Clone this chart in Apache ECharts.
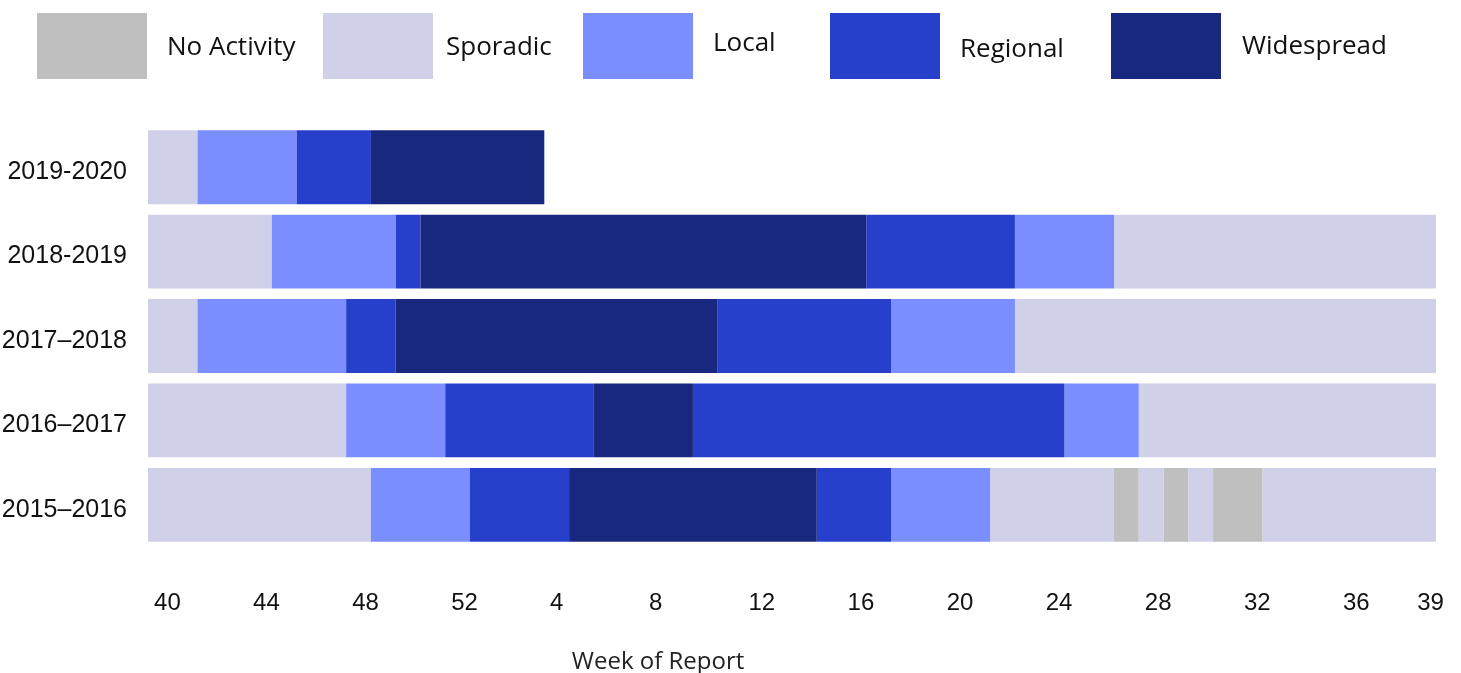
<!DOCTYPE html>
<html>
<head>
<meta charset="utf-8">
<script src="https://cdn.jsdelivr.net/npm/echarts@6/dist/echarts.min.js"></script>
<style>html,body{margin:0;padding:0;background:#fff}#c{width:1461px;height:673px}</style>
</head>
<body>
<div id="c"></div>
<script>
// Week categories (week 40 through week 39 of the following year)
const weeks = ['40','41','42','43','44','45','46','47','48','49','50','51','52',
  '1','2','3','4','5','6','7','8','9','10','11','12','13','14','15','16','17','18','19','20',
  '21','22','23','24','25','26','27','28','29','30','31','32','33','34','35','36','37','38','39'];
const seasons = ['2019-2020', '2018-2019', '2017\u20132018', '2016\u20132017', '2015\u20132016'];
const levels = ['No Activity', 'Sporadic', 'Local', 'Regional', 'Widespread'];
const levelColors = ['#BFBFBF', '#D0D0E8', '#7B8EFF', '#2740CC', '#19287F'];

// Runs of [activity level index, number of weeks], starting at week 40
const runs2019_2020 = [[1,2],[2,4],[3,3],[4,7]];
const runs2018_2019 = [[1,5],[2,5],[3,1],[4,18],[3,6],[2,4],[1,13]];
const runs2017_2018 = [[1,2],[2,6],[3,2],[4,13],[3,7],[2,5],[1,17]];
const runs2016_2017 = [[1,8],[2,4],[3,6],[4,4],[3,15],[2,3],[1,12]];
const runs2015_2016 = [[1,9],[2,4],[3,4],[4,10],[3,3],[2,4],[1,5],[0,1],[1,1],[0,1],[1,1],[0,2],[1,7]];
const seasonRuns = [runs2019_2020, runs2018_2019, runs2017_2018, runs2016_2017, runs2015_2016];

// Per-level segment lists: [startWeekIdx, endWeekIdx (inclusive), seasonIdx]
const segs = levels.map(() => []);
seasonRuns.forEach((runs, si) => {
  let pos = 0;
  runs.forEach(([lvl, n]) => { segs[lvl].push([pos, pos + n - 1, si]); pos += n; });
});

function renderItem(params, api) {
  const s = api.value(0), e = api.value(1), y = api.value(2);
  const p0 = api.coord([s, y]);
  const p1 = api.coord([e, y]);
  const bw = api.size([1, 0])[0];
  const bh = api.size([0, 1])[1] * 0.875;
  return {
    type: 'rect',
    shape: { x: p0[0] - bw / 2, y: p0[1] - bh / 2, width: p1[0] - p0[0] + bw, height: bh },
    style: api.style()
  };
}

const legendLeft = [37, 323, 583, 830, 1111];
const legendTextPad = [[4,0,0,15],[4,0,0,8],[0,0,4,15],[8,0,0,15],[2,0,0,16]];
const tickFont = 'Liberation Sans Narrow, Arial Narrow, Liberation Sans, sans-serif';
const seasonFont = 'Liberation Sans, Arial, sans-serif';

const chart = echarts.init(document.getElementById('c'));
chart.setOption({
  animation: false,
  backgroundColor: '#fff',
  legend: levels.map((name, i) => ({
    data: [name], left: legendLeft[i], top: 13, itemWidth: 110, itemHeight: 66,
    icon: 'rect', selectedMode: false, padding: 0,
    formatter: (n) => '{t|' + n + '}',
    textStyle: { fontSize: 26, fontFamily: 'Open Sans', color: '#111',
      rich: { t: { fontSize: 26, fontFamily: 'Open Sans', color: '#111', padding: legendTextPad[i] } } }
  })),
  grid: { left: 148, right: 25, top: 125, bottom: 126, outerBoundsMode: 'none' },
  xAxis: {
    type: 'category', data: weeks, boundaryGap: true,
    axisLine: { show: false }, axisTick: { show: false }, splitLine: { show: false },
    axisLabel: {
      interval: (idx) => idx % 4 === 0 || idx === 51,
      formatter: (v) => (v === '4' || v === '8') ? '{a|' + v + '}' : '{b|' + v + '}',
      rich: {
        a: { fontSize: 24, fontFamily: tickFont, color: '#111', padding: [0, 14, 0, 0] },
        b: { fontSize: 24, fontFamily: tickFont, color: '#111' }
      },
      fontSize: 24, fontFamily: tickFont, color: '#111', margin: 44, padding: [0, 0, 0, 14]
    },
    name: 'Week of Report', nameLocation: 'middle', nameGap: 103,
    nameTextStyle: { fontSize: 24, fontFamily: 'Open Sans', color: '#222', padding: [0, 268, 0, 0] }
  },
  yAxis: {
    type: 'category', data: seasons, inverse: true,
    axisLine: { show: false }, axisTick: { show: false }, splitLine: { show: false },
    axisLabel: {
      formatter: (v) => '{s|' + v + '}',
      rich: { s: { fontSize: 25, fontFamily: seasonFont, color: '#111', padding: [10, 0, 0, 0] } },
      fontSize: 25, fontFamily: seasonFont, color: '#111', margin: 21
    }
  },
  series: levels.map((name, i) => ({
    name, type: 'custom', renderItem,
    itemStyle: { color: levelColors[i] },
    encode: { x: [0, 1], y: 2 },
    data: segs[i]
  }))
});
</script>
</body>
</html>
